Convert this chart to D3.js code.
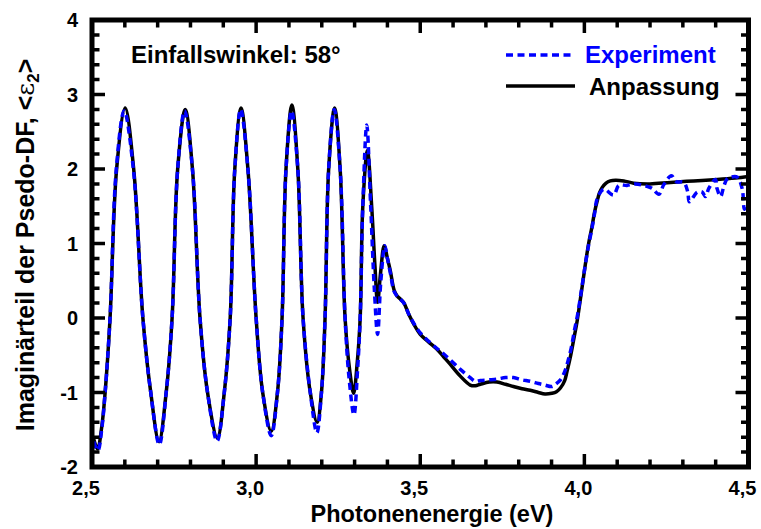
<!DOCTYPE html>
<html>
<head>
<meta charset="utf-8">
<script src="https://cdn.jsdelivr.net/npm/d3@7"></script>
<style>
  body { margin: 0; background: #fff; }
  svg text { font-family: "Liberation Sans", Arial, sans-serif; font-weight: bold; }
</style>
</head>
<body>
<svg width="761" height="529"></svg>
<script>
// Fit (Anpassung)
const fitE = [2.505, 2.517, 2.530, 2.540, 2.555, 2.575, 2.601, 2.627, 2.655, 2.679,
  2.704, 2.726, 2.744, 2.761, 2.784, 2.806, 2.829, 2.852, 2.882, 2.903,
  2.921, 2.935, 2.954, 2.975, 3.000, 3.020, 3.046, 3.065, 3.079, 3.091,
  3.109, 3.127, 3.143, 3.165, 3.186, 3.199, 3.210, 3.221, 3.239, 3.256,
  3.271, 3.285, 3.297, 3.308, 3.317, 3.325, 3.339, 3.352, 3.362, 3.370,
  3.379, 3.390, 3.400, 3.409, 3.420, 3.429, 3.449, 3.465, 3.480, 3.500,
  3.525, 3.551, 3.571, 3.591, 3.622, 3.652, 3.668, 3.683, 3.710, 3.734,
  3.760, 3.784, 3.810, 3.835, 3.860, 3.880, 3.901, 3.915, 3.927, 3.940,
  3.947, 3.957, 3.967, 3.978, 3.990, 4.003, 4.013, 4.023, 4.031, 4.039,
  4.046, 4.054, 4.066, 4.079, 4.095, 4.120, 4.150, 4.200, 4.262, 4.333,
  4.405, 4.460, 4.500];
const fitV = [-1.62, -1.76, -1.45, -1.00, 0.00, 2.00, 2.82, 2.00, 0.00, -1.00,
  -1.66, -1.00, 0.00, 2.00, 2.80, 2.00, 0.00, -1.00, -1.61, -1.00,
  0.00, 2.00, 2.82, 2.00, 0.00, -1.00, -1.52, -1.00, 0.00, 2.00,
  2.86, 2.00, 0.00, -1.00, -1.40, -1.00, 0.00, 2.00, 2.82, 2.00,
  0.00, -0.70, -1.01, -0.60, 0.00, 1.50, 2.25, 1.50, 0.70, 0.21,
  0.60, 0.97, 0.80, 0.63, 0.38, 0.30, 0.21, 0.05, -0.08, -0.22,
  -0.32, -0.42, -0.52, -0.62, -0.78, -0.90, -0.91, -0.89, -0.86, -0.86,
  -0.89, -0.92, -0.95, -0.97, -1.00, -1.02, -1.01, -0.99, -0.94, -0.84,
  -0.72, -0.53, -0.30, -0.04, 0.32, 0.72, 1.00, 1.22, 1.42, 1.57,
  1.68, 1.75, 1.81, 1.84, 1.85, 1.84, 1.81, 1.80, 1.82, 1.84,
  1.86, 1.88, 1.90];

// Experiment
const expE = [2.505, 2.518, 2.530, 2.540, 2.555, 2.574, 2.598, 2.626, 2.655, 2.679,
  2.705, 2.726, 2.744, 2.761, 2.782, 2.806, 2.829, 2.852, 2.881, 2.903,
  2.921, 2.935, 2.953, 2.975, 3.000, 3.020, 3.046, 3.065, 3.079, 3.091,
  3.108, 3.127, 3.143, 3.165, 3.185, 3.199, 3.210, 3.221, 3.238, 3.256,
  3.271, 3.283, 3.298, 3.309, 3.317, 3.325, 3.337, 3.349, 3.360, 3.370,
  3.380, 3.392, 3.400, 3.410, 3.420, 3.430, 3.450, 3.465, 3.480, 3.500,
  3.525, 3.551, 3.571, 3.591, 3.622, 3.652, 3.668, 3.683, 3.710, 3.734,
  3.760, 3.784, 3.810, 3.835, 3.860, 3.880, 3.901, 3.915, 3.927, 3.940,
  3.950, 3.960, 3.970, 3.980, 3.992, 4.003, 4.013, 4.023, 4.031, 4.039,
  4.059, 4.089, 4.105, 4.130, 4.155, 4.181, 4.206, 4.227, 4.242, 4.265,
  4.280, 4.303, 4.315, 4.320, 4.344, 4.359, 4.369, 4.379, 4.399, 4.404,
  4.415, 4.425, 4.435, 4.445, 4.466, 4.481, 4.488, 4.500];
const expV = [-1.66, -1.78, -1.48, -1.00, 0.00, 2.00, 2.78, 2.00, 0.00, -1.00,
  -1.70, -1.00, 0.00, 2.00, 2.78, 2.00, 0.00, -1.00, -1.65, -1.00,
  0.00, 2.00, 2.80, 2.00, 0.00, -1.00, -1.58, -1.00, 0.00, 2.00,
  2.78, 2.00, 0.00, -1.00, -1.54, -1.00, 0.00, 2.00, 2.80, 2.00,
  0.00, -0.80, -1.30, -0.70, 0.00, 1.50, 2.59, 1.50, 0.40, -0.22,
  0.50, 0.97, 0.80, 0.58, 0.36, 0.29, 0.20, 0.05, -0.07, -0.20,
  -0.31, -0.41, -0.48, -0.56, -0.69, -0.80, -0.85, -0.84, -0.83, -0.82,
  -0.80, -0.80, -0.83, -0.85, -0.88, -0.90, -0.92, -0.88, -0.83, -0.72,
  -0.58, -0.40, -0.16, 0.06, 0.40, 0.72, 0.98, 1.20, 1.40, 1.60,
  1.73, 1.65, 1.78, 1.78, 1.80, 1.78, 1.74, 1.66, 1.79, 1.91,
  1.83, 1.82, 1.69, 1.56, 1.69, 1.69, 1.63, 1.74, 1.86, 1.74,
  1.63, 1.77, 1.87, 1.89, 1.89, 1.73, 1.46, 1.57];

const xMajor = [2.5, 3.0, 3.5, 4.0, 4.5];
const xTickLabels = ['2,5', '3,0', '3,5', '4,0', '4,5'];
const xMinor = [2.6, 2.7, 2.8, 2.9, 3.1, 3.2, 3.3, 3.4, 3.6, 3.7, 3.8, 3.9, 4.1, 4.2, 4.3, 4.4];
const yMajor = [-2, -1, 0, 1, 2, 3, 4];
const yTickLabels = ['-2', '-1', '0', '1', '2', '3', '4'];
const yMinor = [-1.8, -1.6, -1.4, -1.2, -0.8, -0.6, -0.4, -0.2, 0.2, 0.4, 0.6, 0.8,
  1.2, 1.4, 1.6, 1.8, 2.2, 2.4, 2.6, 2.8, 3.2, 3.4, 3.6, 3.8];

const svg = d3.select('svg');
const margin = { top: 20, right: 12.5, bottom: 62, left: 92 };
const width = 761, height = 529;
const plotW = width - margin.left - margin.right;
const plotH = height - margin.top - margin.bottom;

const xScale = d3.scaleLinear().domain([2.5, 4.5]).range([0, plotW]);
const yScale = d3.scaleLinear().domain([-2, 4]).range([plotH, 0]);

const g = svg.append('g')
  .attr('transform', `translate(${margin.left},${margin.top})`);

// tick labels
g.selectAll('.xlab').data(xMajor).enter().append('text')
  .attr('class', 'xlab')
  .attr('x', d => xScale(d) - 6)
  .attr('y', plotH + 28)
  .attr('text-anchor', 'middle')
  .attr('font-size', 20)
  .text((d, i) => xTickLabels[i]);

g.selectAll('.ylab').data(yMajor).enter().append('text')
  .attr('class', 'ylab')
  .attr('x', -14)
  .attr('y', d => yScale(d) + 7)
  .attr('text-anchor', 'end')
  .attr('font-size', 20)
  .text((d, i) => yTickLabels[i]);

// curves
const fitData = fitE.map((e, i) => [e, fitV[i]]);
const expData = expE.map((e, i) => [e, expV[i]]);
const lineGen = d3.line()
  .x(d => xScale(d[0]))
  .y(d => yScale(d[1]))
  .curve(d3.curveCatmullRom.alpha(0.5));

g.append('path').datum(fitData)
  .attr('d', lineGen)
  .attr('fill', 'none')
  .attr('stroke', 'black')
  .attr('stroke-width', 3.5);

g.append('path').datum(expData)
  .attr('d', lineGen)
  .attr('fill', 'none')
  .attr('stroke', '#0000ff')
  .attr('stroke-width', 3.5)
  .attr('stroke-dasharray', '7,4.5');

// inward ticks on all four sides, one path on top of the curves
const majorLen = 13, minorLen = 7.5;
const tickPath = d3.path();
xMajor.map(v => [v, majorLen]).concat(xMinor.map(v => [v, minorLen])).forEach(([v, len]) => {
  const x = xScale(v);
  tickPath.moveTo(x, plotH); tickPath.lineTo(x, plotH - len);
  tickPath.moveTo(x, 0); tickPath.lineTo(x, len);
});
yMajor.map(v => [v, majorLen]).concat(yMinor.map(v => [v, minorLen])).forEach(([v, len]) => {
  const y = yScale(v);
  tickPath.moveTo(0, y); tickPath.lineTo(len, y);
  tickPath.moveTo(plotW, y); tickPath.lineTo(plotW - len, y);
});
g.append('path')
  .attr('d', tickPath.toString())
  .attr('fill', 'none')
  .attr('stroke', 'black')
  .attr('stroke-width', 3.5);

// frame
g.append('rect').attr('width', plotW).attr('height', plotH)
  .attr('fill', 'none').attr('stroke', 'black').attr('stroke-width', 5);

// annotation and legend
svg.append('text').attr('x', 131).attr('y', 63).attr('font-size', 24)
  .text('Einfallswinkel: 58°');

svg.append('line').attr('x1', 506).attr('x2', 575).attr('y1', 55).attr('y2', 55)
  .attr('stroke', '#0000ff').attr('stroke-width', 3.5).attr('stroke-dasharray', '7,4.5');
svg.append('text').attr('x', 585).attr('y', 63).attr('font-size', 24)
  .attr('fill', '#0000ff').text('Experiment');
svg.append('line').attr('x1', 506).attr('x2', 575).attr('y1', 86).attr('y2', 86)
  .attr('stroke', 'black').attr('stroke-width', 3.5);
svg.append('text').attr('x', 589).attr('y', 95).attr('font-size', 24)
  .text('Anpassung');

// axis titles
svg.append('text')
  .attr('x', 432).attr('y', 522)
  .attr('text-anchor', 'middle')
  .attr('font-size', 23.5)
  .text('Photonenenergie (eV)');

const yTitle = svg.append('text')
  .attr('transform', 'translate(34,245) rotate(-90)')
  .attr('text-anchor', 'middle')
  .attr('font-size', 25);
yTitle.append('tspan').text('Imaginärteil der Psedo-DF, <');
yTitle.append('tspan').attr('font-weight', 'normal').attr('font-family', 'DejaVu Serif').text('ε');
yTitle.append('tspan').attr('font-size', 17).attr('dy', 5).text('2');
yTitle.append('tspan').attr('dy', -5).text('>');
</script>
</body>
</html>
